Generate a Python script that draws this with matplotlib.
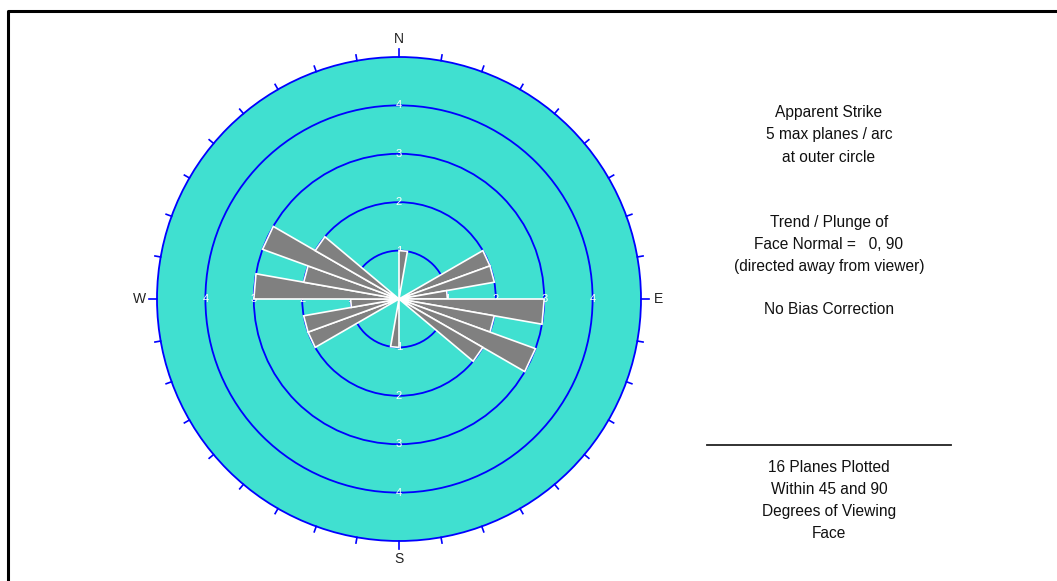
import numpy as np
import matplotlib
matplotlib.use('Agg')
import matplotlib.pyplot as plt
from matplotlib.patches import Circle, Polygon

plt.rcParams['font.family'] = ['Liberation Sans', 'DejaVu Sans']

# rose bins (start azimuth, degrees clockwise from N) and plane counts
bin_start = [0, 60, 70, 80, 90, 100, 110, 120]
counts = [1, 2, 2, 1, 3, 2, 3, 2]
bin_width = 10
max_count = 5
rings = [1, 2, 3, 4]

info_top = ['Apparent Strike', '5 max planes / arc', 'at outer circle']
info_mid = ['Trend / Plunge of', 'Face Normal =   0, 90', '(directed away from viewer)']
info_bias = 'No Bias Correction'
info_bottom = ['16 Planes Plotted', 'Within 45 and 90', 'Degrees of Viewing', 'Face']

W, H = 1057, 581
fig = plt.figure(figsize=(W / 100, H / 100), dpi=100)

# background axes in pixel coordinates for frame and text
bg = fig.add_axes([0, 0, 1, 1])
bg.set_xlim(0, W)
bg.set_ylim(H, 0)
bg.axis('off')
bg.plot([7.5, 7.5, W + 5], [H + 5, 10.5, 10.5], color='black', lw=2.2)

# rose axes, in count units
cx, cy = 399, 299
unit = 48.4
half = 5.6
ax = fig.add_axes([(cx - half * unit) / W, (H - cy - half * unit) / H,
                   2 * half * unit / W, 2 * half * unit / H])
ax.set_xlim(-half, half)
ax.set_ylim(-half, half)
ax.set_aspect('equal')
ax.axis('off')

ax.add_patch(Circle((0, 0), max_count, facecolor='#40E0D0', edgecolor='#0000FF', lw=1.3, zorder=1))
for r in rings:
    ax.add_patch(Circle((0, 0), r, facecolor='none', edgecolor='#0000FF', lw=1.3, zorder=2))
    for (dx, dy) in [(0, 1), (0, -1), (1, 0), (-1, 0)]:
        ax.text(dx * r, dy * r, str(r), color='white', fontsize=8, ha='center', va='center', zorder=3)

# ticks every 10 degrees on the outer circle
for az in range(0, 360, 10):
    a = np.radians(az)
    length = 0.17 if az % 90 == 0 else 0.12
    ax.plot([max_count * np.sin(a), (max_count + length) * np.sin(a)],
            [max_count * np.cos(a), (max_count + length) * np.cos(a)],
            color='#0000FF', lw=1.2, zorder=2)

# petals, drawn both ways for strike
for start, c in zip(bin_start, counts):
    for off in (0, 180):
        a1 = np.radians(start + off)
        a2 = np.radians(start + off + bin_width)
        pts = [(0, 0), (c * np.sin(a1), c * np.cos(a1)), (c * np.sin(a2), c * np.cos(a2))]
        ax.add_patch(Polygon(pts, closed=True, facecolor='#808080', edgecolor='white', lw=1.2, zorder=4))

lab = 5.37
ax.text(0, lab, 'N', fontsize=10, ha='center', va='center', color='#222222')
ax.text(0, -lab, 'S', fontsize=10, ha='center', va='center', color='#222222')
ax.text(lab, 0, 'E', fontsize=10, ha='center', va='center', color='#222222')
ax.text(-lab, 0, 'W', fontsize=10, ha='center', va='center', color='#222222')

# info text on the right
tx = 829
fs = 11.2
for i, s in enumerate(info_top):
    bg.text(tx, 113 + 22 * i, s, fontsize=fs, ha='center', va='center', color='#111111')
for i, s in enumerate(info_mid):
    bg.text(tx, 223 + 21.5 * i, s, fontsize=fs, ha='center', va='center', color='#111111')
bg.text(tx, 310, info_bias, fontsize=fs, ha='center', va='center', color='#111111')
bg.plot([707, 951], [445, 445], color='#222222', lw=1.3)
for i, s in enumerate(info_bottom):
    bg.text(tx, 467 + 22.3 * i, s, fontsize=fs, ha='center', va='center', color='#111111')

fig.savefig('out.png', dpi=100)
